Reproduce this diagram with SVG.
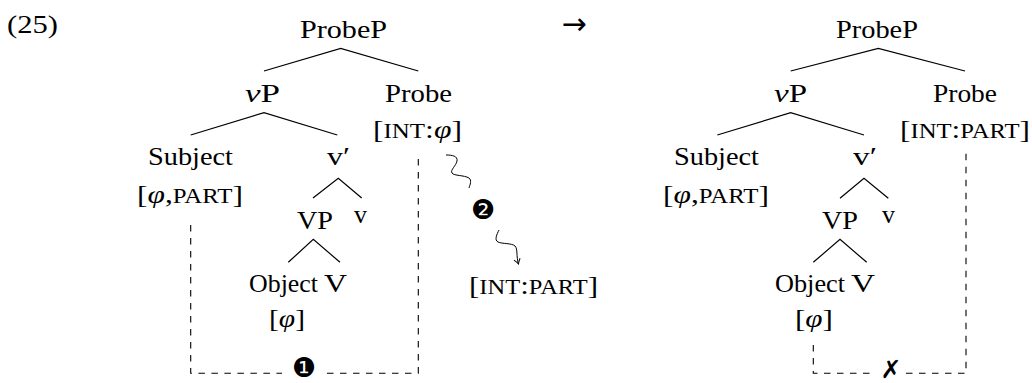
<svg xmlns="http://www.w3.org/2000/svg" width="1032" height="383" viewBox="0 0 1032 383">
<style>
.t{font-family:"Liberation Serif","Times New Roman",serif;font-size:26px;fill:#000}
.sc{font-size:20.5px}
.i{font-style:italic}
.e{stroke:#000;stroke-width:1.2;fill:none}
.d{stroke:#000;stroke-width:1.1;fill:none;stroke-dasharray:6.5 6.5}
.s{stroke:#000;stroke-width:1;fill:none}
.g{font-family:"DejaVu Sans",sans-serif;font-size:27px;fill:#000;text-anchor:middle}
.a{font-family:Roboto,"DejaVu Sans",sans-serif;font-size:30px;fill:#000;text-anchor:middle}
</style>
<defs>
<marker id="ah" viewBox="-6 -4 8 8" markerWidth="8" markerHeight="8" refX="0" refY="0" orient="auto" markerUnits="userSpaceOnUse">
<path d="M-5,-3.2 Q-2,-0.8 0,0 Q-2,0.8 -5,3.2" fill="none" stroke="#000" stroke-width="1"/>
</marker>
</defs>
<rect width="1032" height="383" fill="#fff"/>
<g id="label">
<text class="t" x="7" y="33" textLength="51" lengthAdjust="spacingAndGlyphs">(25)</text>
<text class="a" x="574" y="34">→</text>
</g>
<g id="connectors">
<path class="e" d="M264,71 L340.7,48.3 L418.3,71"/>
<path class="e" d="M190.7,135 L264,112.7 L337.3,135"/>
<path class="e" d="M313,198 L338.3,178.3 L361.7,198"/>
<path class="e" d="M288.3,262.3 L313.3,239.3 L340,262.3"/>
<path class="e" d="M790.7,71 L878.3,48.3 L965,71"/>
<path class="e" d="M717.3,135 L790.7,112.7 L864,135"/>
<path class="e" d="M840,198.3 L864,178.3 L888.3,198.3"/>
<path class="e" d="M813.3,262.3 L840,239.3 L866.7,262.3"/>
<path class="d" d="M190.7,225 V373.3 H282"/>
<path class="d" d="M327,373.3 H418.3 V153"/>
<path class="d" d="M813.3,345 V373.3 H876"/>
<path class="d" d="M906,373.3 H966 V153"/>
<path class="s" d="M446,155 C452,155 458,156 457,161 C456,166 450,170 452,173 C454,176 464,175 469,178 C472,180 470,185 469,188"/>
<path class="s" d="M499,230 C497,234 494,240 498,242 C502,244 512,243 515,246 C518,249 516,256 518.5,264" marker-end="url(#ah)"/>
</g>
<g id="marks">
<text class="g" x="304" y="377">❶</text>
<text class="g" x="483" y="219">❷</text>
<text class="g" x="891" y="378" style="font-size:25px">✗</text>
</g>
<g id="left-tree">
<g id="L-ProbeP"><text class="t" x="300" y="38" textLength="87" lengthAdjust="spacingAndGlyphs">ProbeP</text></g>
<g id="L-vP"><text class="t" x="245" y="101.7" textLength="35" lengthAdjust="spacingAndGlyphs"><tspan class="i">v</tspan>P</text></g>
<g id="L-Probe"><text class="t" x="385" y="101.7" textLength="67" lengthAdjust="spacingAndGlyphs">Probe</text>
<text class="t" x="373" y="137.5" textLength="89" lengthAdjust="spacingAndGlyphs">[<tspan class="sc">INT</tspan>:<tspan class="i">φ</tspan>]</text></g>
<g id="L-Subject"><text class="t" x="148" y="165" textLength="85" lengthAdjust="spacingAndGlyphs">Subject</text>
<text class="t" x="137" y="203" textLength="106" lengthAdjust="spacingAndGlyphs">[<tspan class="i">φ</tspan>,<tspan class="sc">PART</tspan>]</text></g>
<g id="L-vbar"><text class="t" x="327" y="165" textLength="23" lengthAdjust="spacingAndGlyphs">v′</text></g>
<g id="L-VP"><text class="t" x="297" y="229.3" textLength="36" lengthAdjust="spacingAndGlyphs">VP</text></g>
<g id="L-v"><text class="t" x="354" y="223.3" textLength="13" lengthAdjust="spacingAndGlyphs">v</text></g>
<g id="L-Object"><text class="t" x="249" y="292.3" textLength="69" lengthAdjust="spacingAndGlyphs">Object</text>
<text class="t" x="269" y="326.7" textLength="36" lengthAdjust="spacingAndGlyphs">[<tspan class="i">φ</tspan>]</text></g>
<g id="L-V"><text class="t" x="324" y="292.3" textLength="23" lengthAdjust="spacingAndGlyphs">V</text></g>
<g id="L-IntPart"><text class="t" x="469" y="294" textLength="129" lengthAdjust="spacingAndGlyphs">[<tspan class="sc">INT</tspan>:<tspan class="sc">PART</tspan>]</text></g>
</g>
<g id="right-tree">
<g id="R-ProbeP"><text class="t" x="836" y="38" textLength="82" lengthAdjust="spacingAndGlyphs">ProbeP</text></g>
<g id="R-vP"><text class="t" x="774" y="101.7" textLength="33" lengthAdjust="spacingAndGlyphs"><tspan class="i">v</tspan>P</text></g>
<g id="R-Probe"><text class="t" x="933" y="101.7" textLength="64" lengthAdjust="spacingAndGlyphs">Probe</text>
<text class="t" x="900" y="137.5" textLength="130" lengthAdjust="spacingAndGlyphs">[<tspan class="sc">INT</tspan>:<tspan class="sc">PART</tspan>]</text></g>
<g id="R-Subject"><text class="t" x="674" y="165" textLength="85" lengthAdjust="spacingAndGlyphs">Subject</text>
<text class="t" x="663" y="203" textLength="106" lengthAdjust="spacingAndGlyphs">[<tspan class="i">φ</tspan>,<tspan class="sc">PART</tspan>]</text></g>
<g id="R-vbar"><text class="t" x="853" y="165" textLength="24" lengthAdjust="spacingAndGlyphs">v′</text></g>
<g id="R-VP"><text class="t" x="822" y="229.3" textLength="36" lengthAdjust="spacingAndGlyphs">VP</text></g>
<g id="R-v"><text class="t" x="882" y="223.3" textLength="13" lengthAdjust="spacingAndGlyphs">v</text></g>
<g id="R-Object"><text class="t" x="775" y="292.3" textLength="70" lengthAdjust="spacingAndGlyphs">Object</text>
<text class="t" x="795" y="326.7" textLength="38" lengthAdjust="spacingAndGlyphs">[<tspan class="i">φ</tspan>]</text></g>
<g id="R-V"><text class="t" x="851" y="292.3" textLength="24" lengthAdjust="spacingAndGlyphs">V</text></g>
</g>
</svg>
